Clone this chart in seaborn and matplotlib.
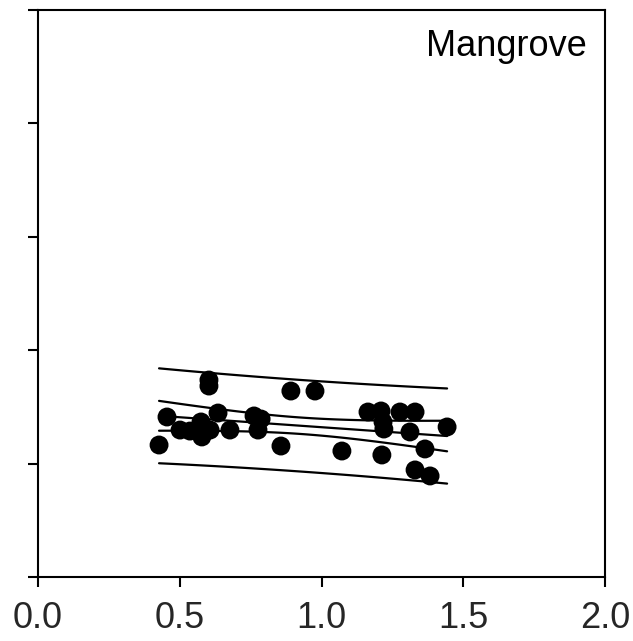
import numpy as np
import pandas as pd
import matplotlib
matplotlib.use("Agg")
import matplotlib.pyplot as plt
import seaborn as sns

# Data
x_vals = [0.427, 0.455, 0.501, 0.536, 0.575, 0.578, 0.603, 0.603, 0.607, 0.635,
          0.677, 0.762, 0.787, 0.776, 0.857, 0.892, 0.977, 1.072, 1.164, 1.210,
          1.217, 1.220, 1.213, 1.277, 1.330, 1.312, 1.365, 1.330, 1.383, 1.443]
y_vals = [1.164, 1.411, 1.296, 1.287, 1.367, 1.235, 1.737, 1.684, 1.296, 1.446,
          1.296, 1.420, 1.393, 1.296, 1.155, 1.640, 1.640, 1.111, 1.455, 1.464,
          1.367, 1.305, 1.076, 1.455, 1.455, 1.279, 1.129, 0.944, 0.891, 1.323]
x_ticks = [0.0, 0.5, 1.0, 1.5, 2.0]
x_tick_labels = ["0.0", "0.5", "1.0", "1.5", "2.0"]
y_ticks = [0, 1, 2, 3, 4, 5]
panel_label = "Mangrove"

df = pd.DataFrame({"x": x_vals, "y": y_vals})

sns.set_theme(style="white")
plt.rcParams["font.family"] = ["Liberation Sans", "DejaVu Sans"]

fig = plt.figure(figsize=(6.33, 6.41), dpi=100)
ax = fig.add_axes([38 / 633, 64 / 641, 567 / 633, 567 / 641])

# Regression with 95% confidence and prediction bands
x = np.asarray(x_vals)
y = np.asarray(y_vals)
n = len(x)
b1, b0 = np.polyfit(x, y, 1)
resid = y - (b0 + b1 * x)
s = np.sqrt(np.sum(resid ** 2) / (n - 2))
t = 2.048
xs = np.linspace(x.min(), x.max(), 100)
ys = b0 + b1 * xs
sxx = np.sum((x - x.mean()) ** 2)
ci = t * s * np.sqrt(1 / n + (xs - x.mean()) ** 2 / sxx)
pi = t * s * np.sqrt(1 + 1 / n + (xs - x.mean()) ** 2 / sxx)
for yy in [ys, ys + ci, ys - ci, ys + pi, ys - pi]:
    ax.plot(xs, yy, color="black", lw=1.6, zorder=2)

sns.scatterplot(data=df, x="x", y="y", ax=ax, color="black", s=185,
                edgecolor="none", zorder=3, legend=False)

ax.set_xlim(0, 2)
ax.set_ylim(0, 5)
ax.set_xticks(x_ticks)
ax.set_xticklabels(x_tick_labels, fontsize=26)
ax.set_yticks(y_ticks)
ax.set_yticklabels([])
ax.set_xlabel("")
ax.set_ylabel("")
for sp in ax.spines.values():
    sp.set_visible(True)
    sp.set_color("black")
    sp.set_linewidth(1.5)
ax.tick_params(axis="both", direction="out", length=7.5, width=1.5, color="black",
               bottom=True, left=True, top=False, right=False)
ax.tick_params(axis="x", pad=10)
ax.text(0.968, 0.967, panel_label, transform=ax.transAxes, ha="right", va="top",
        fontsize=26, color="black")

fig.savefig("out.png", dpi=100)
